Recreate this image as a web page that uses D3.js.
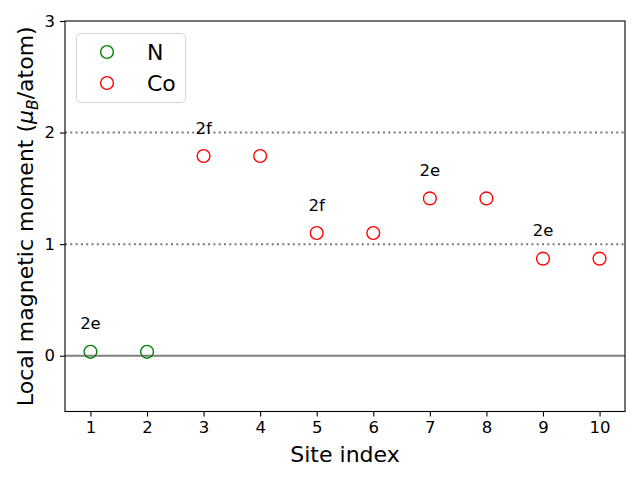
<!DOCTYPE html>
<html><head><meta charset="utf-8">
<script src="https://cdn.jsdelivr.net/npm/d3@7"></script>
<style>body{margin:0;background:#fff}svg{display:block}text{font-family:"DejaVu Sans",sans-serif}</style>
</head><body>
<svg id="c" width="640" height="480"></svg>
<script>
const nSites = [1, 2];
const nValues = [0.035, 0.035];
const coSites = [3, 4, 5, 6, 7, 8, 9, 10];
const coValues = [1.79, 1.79, 1.10, 1.10, 1.41, 1.41, 0.87, 0.87];
const labelSites = [1, 3, 5, 7, 9];
const labelValues = [0.035, 1.79, 1.10, 1.41, 0.87];
const labelTexts = ["2e", "2f", "2f", "2e", "2e"];
const xTicks = [1,2,3,4,5,6,7,8,9,10];
const yTicks = [0,1,2,3];
const refLines = [1, 2];

const svg = d3.select("#c");
const L=65, R=625, T=21, B=411.5;
const x = d3.scaleLinear().domain([0.55,10.45]).range([L,R]);
const y = d3.scaleLinear().domain([-0.5,3]).range([B,T]);

// ref lines
svg.selectAll(".ref").data(refLines).enter().append("line")
  .attr("x1",L).attr("x2",R).attr("y1",d=>y(d)).attr("y2",d=>y(d))
  .attr("stroke","#777").attr("stroke-width",2).attr("stroke-dasharray","2,3.3");
svg.append("line").attr("x1",L).attr("x2",R).attr("y1",y(0)).attr("y2",y(0))
  .attr("stroke","#808080").attr("stroke-width",2);

// axes
const xa = svg.append("g").attr("transform",`translate(0,${B})`)
  .call(d3.axisBottom(x).tickValues(xTicks).tickSize(5).tickPadding(5).tickFormat(d3.format("d")));
const ya = svg.append("g").attr("transform",`translate(${L},0)`)
  .call(d3.axisLeft(y).tickValues(yTicks).tickSize(5).tickPadding(5).tickFormat(d3.format("d")));
[xa,ya].forEach(g=>{
  g.select(".domain").remove();
  g.selectAll("text").attr("font-size","16.5px").attr("fill","#000").attr("font-family","DejaVu Sans");
  g.selectAll("line").attr("stroke","#000").attr("stroke-width",1.1);
});
svg.append("rect").attr("x",L).attr("y",T).attr("width",R-L).attr("height",B-T)
  .attr("fill","none").attr("stroke","#000").attr("stroke-width",1.1);

// points
function pts(xs, vs, col){
  svg.append("g").selectAll("circle").data(xs.map((s,i)=>[s,vs[i]])).enter().append("circle")
    .attr("cx",d=>x(d[0])).attr("cy",d=>y(d[1])).attr("r",6.4)
    .attr("fill","none").attr("stroke",col).attr("stroke-width",1.4);
}
pts(nSites,nValues,"green");
pts(coSites,coValues,"red");

// labels
svg.append("g").selectAll("text").data(labelSites.map((s,i)=>[s,labelValues[i]+0.2,labelTexts[i]])).enter().append("text")
  .attr("x",d=>x(d[0])).attr("y",d=>y(d[1])).attr("text-anchor","middle")
  .attr("font-size","16.5px").text(d=>d[2]);

// axis labels
svg.append("text").attr("x",(L+R)/2).attr("y",462).attr("text-anchor","middle")
  .attr("font-size","22px").text("Site index");
const yl = svg.append("text").attr("transform",`translate(33,${(T+B)/2}) rotate(-90)`)
  .attr("text-anchor","middle").attr("font-size","22px");
yl.append("tspan").text("Local magnetic moment (");
yl.append("tspan").attr("font-style","italic").text("μ");
yl.append("tspan").attr("font-style","italic").attr("font-size","15.5px").attr("dy",5).text("B");
yl.append("tspan").attr("dy",-5).text("/atom)");

// legend
const lg = svg.append("g");
lg.append("rect").attr("x",76.5).attr("y",33.5).attr("width",109).attr("height",69).attr("rx",4)
  .attr("fill","#fff").attr("fill-opacity",0.8).attr("stroke","#d5d5d5").attr("stroke-width",1);
const items=[["N","green"],["Co","red"]];
items.forEach((it,i)=>{
  const cy = 52 + i*31;
  lg.append("circle").attr("cx",107).attr("cy",cy).attr("r",6.4).attr("fill","none").attr("stroke",it[1]).attr("stroke-width",1.4);
  lg.append("text").attr("x",147).attr("y",cy+8).attr("font-size","22px").text(it[0]);
});
</script>
</body></html>
